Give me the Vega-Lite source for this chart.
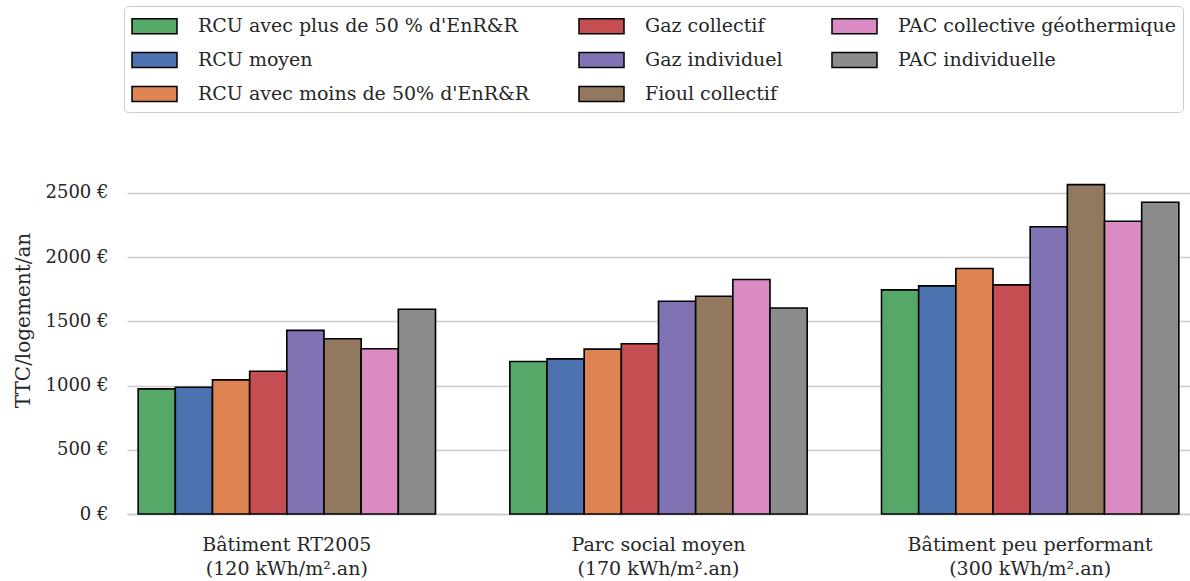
{
  "$schema": "https://vega.github.io/schema/vega-lite/v6.json",
  "autosize": {"type": "none"},
  "padding": {"left": 127, "top": 130, "right": 0, "bottom": 67},
  "width": 1063,
  "height": 384,
  "background": "white",
  "config": {
    "font": "DejaVu Serif",
    "axis": {"labelFont": "DejaVu Serif", "titleFont": "DejaVu Serif"},
    "legend": {"labelFont": "DejaVu Serif", "titleFont": "DejaVu Serif"},
    "view": {"stroke": null}
  },
  "data": {
    "values": [
      {"batiment": "Bâtiment RT2005\n(120 kWh/m².an)", "energie": "RCU avec plus de 50 % d'EnR&R", "cout": 974},
      {"batiment": "Bâtiment RT2005\n(120 kWh/m².an)", "energie": "RCU moyen", "cout": 987},
      {"batiment": "Bâtiment RT2005\n(120 kWh/m².an)", "energie": "RCU avec moins de 50% d'EnR&R", "cout": 1044},
      {"batiment": "Bâtiment RT2005\n(120 kWh/m².an)", "energie": "Gaz collectif", "cout": 1112},
      {"batiment": "Bâtiment RT2005\n(120 kWh/m².an)", "energie": "Gaz individuel", "cout": 1430},
      {"batiment": "Bâtiment RT2005\n(120 kWh/m².an)", "energie": "Fioul collectif", "cout": 1365},
      {"batiment": "Bâtiment RT2005\n(120 kWh/m².an)", "energie": "PAC collective géothermique", "cout": 1287},
      {"batiment": "Bâtiment RT2005\n(120 kWh/m².an)", "energie": "PAC individuelle", "cout": 1594},
      {"batiment": "Parc social moyen\n(170 kWh/m².an)", "energie": "RCU avec plus de 50 % d'EnR&R", "cout": 1187},
      {"batiment": "Parc social moyen\n(170 kWh/m².an)", "energie": "RCU moyen", "cout": 1208},
      {"batiment": "Parc social moyen\n(170 kWh/m².an)", "energie": "RCU avec moins de 50% d'EnR&R", "cout": 1284},
      {"batiment": "Parc social moyen\n(170 kWh/m².an)", "energie": "Gaz collectif", "cout": 1326},
      {"batiment": "Parc social moyen\n(170 kWh/m².an)", "energie": "Gaz individuel", "cout": 1656},
      {"batiment": "Parc social moyen\n(170 kWh/m².an)", "energie": "Fioul collectif", "cout": 1695},
      {"batiment": "Parc social moyen\n(170 kWh/m².an)", "energie": "PAC collective géothermique", "cout": 1826},
      {"batiment": "Parc social moyen\n(170 kWh/m².an)", "energie": "PAC individuelle", "cout": 1604},
      {"batiment": "Bâtiment peu performant\n(300 kWh/m².an)", "energie": "RCU avec plus de 50 % d'EnR&R", "cout": 1745},
      {"batiment": "Bâtiment peu performant\n(300 kWh/m².an)", "energie": "RCU moyen", "cout": 1776},
      {"batiment": "Bâtiment peu performant\n(300 kWh/m².an)", "energie": "RCU avec moins de 50% d'EnR&R", "cout": 1912},
      {"batiment": "Bâtiment peu performant\n(300 kWh/m².an)", "energie": "Gaz collectif", "cout": 1784},
      {"batiment": "Bâtiment peu performant\n(300 kWh/m².an)", "energie": "Gaz individuel", "cout": 2237},
      {"batiment": "Bâtiment peu performant\n(300 kWh/m².an)", "energie": "Fioul collectif", "cout": 2565},
      {"batiment": "Bâtiment peu performant\n(300 kWh/m².an)", "energie": "PAC collective géothermique", "cout": 2279},
      {"batiment": "Bâtiment peu performant\n(300 kWh/m².an)", "energie": "PAC individuelle", "cout": 2427}
    ]
  },
  "mark": {"type": "bar", "stroke": "black", "strokeWidth": 1.6},
  "encoding": {
    "x": {
      "field": "batiment",
      "type": "nominal",
      "sort": null,
      "scale": {"paddingInner": 0.2, "paddingOuter": 0.03},
      "axis": {
        "title": null,
        "labelAngle": 0,
        "labelExpr": "split(datum.label, '\\n')",
        "labelFontSize": 19,
        "labelColor": "#262626",
        "labelLineHeight": 24,
        "labelPadding": 30,
        "labelLimit": 500,
        "labelBaseline": "middle",
        "ticks": false,
        "domainColor": "#cccccc",
        "domainWidth": 1.5,
        "grid": false
      }
    },
    "xOffset": {
      "field": "energie",
      "type": "nominal",
      "sort": ["RCU avec plus de 50 % d'EnR&R", "RCU moyen", "RCU avec moins de 50% d'EnR&R", "Gaz collectif", "Gaz individuel", "Fioul collectif", "PAC collective géothermique", "PAC individuelle"],
      "scale": {"paddingInner": 0, "paddingOuter": 0}
    },
    "y": {
      "field": "cout",
      "type": "quantitative",
      "scale": {"domain": [0, 2990], "nice": false},
      "axis": {
        "title": "TTC/logement/an",
        "titleFontSize": 20,
        "titleFontWeight": "normal",
        "titleColor": "#262626",
        "titlePadding": 12,
        "titleY": 190,
        "values": [0, 500, 1000, 1500, 2000, 2500],
        "labelExpr": "datum.value + ' €'",
        "labelFontSize": 18,
        "labelColor": "#262626",
        "labelPadding": 19,
        "ticks": false,
        "domain": false,
        "gridColor": "#cccccc",
        "gridWidth": 1.5
      }
    },
    "color": {
      "field": "energie",
      "type": "nominal",
      "scale": {
        "domain": ["RCU avec plus de 50 % d'EnR&R", "Gaz collectif", "PAC collective géothermique", "RCU moyen", "Gaz individuel", "PAC individuelle", "RCU avec moins de 50% d'EnR&R", "Fioul collectif"],
        "range": ["#55a868", "#c44e52", "#da8bc3", "#4c72b0", "#8172b3", "#8c8c8c", "#dd8452", "#937860"]
      },
      "legend": {
        "title": null,
        "orient": "none",
        "legendX": -3,
        "legendY": -124,
        "direction": "horizontal",
        "columns": 3,
        "gridAlign": "each",
        "columnPadding": 46,
        "rowPadding": 10,
        "padding": 7,
        "strokeColor": "#cccccc",
        "fillColor": "white",
        "cornerRadius": 4,
        "symbolType": "M-1,-0.625H2.75V0.625H-1Z",
        "symbolSize": 576,
        "symbolStrokeColor": "black",
        "symbolStrokeWidth": 1.5,
        "symbolOpacity": 1,
        "labelOffset": 41,
        "labelFontSize": 19,
        "labelColor": "#262626",
        "labelLimit": 500
      }
    }
  }
}
